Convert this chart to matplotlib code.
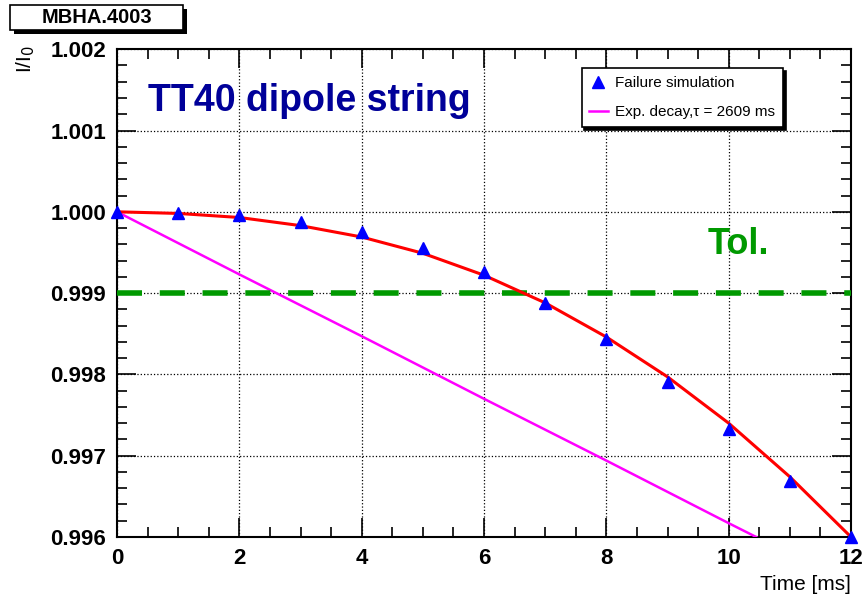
import matplotlib
matplotlib.use("Agg")
import matplotlib.pyplot as plt
from matplotlib.patches import Rectangle
from matplotlib.ticker import MultipleLocator

plt.rcParams["font.family"] = ["Liberation Sans", "DejaVu Sans"]

# failure simulation points
t_sim = [0, 1, 2, 3, 4, 5, 6, 7, 8, 9, 10, 11, 12]
i_sim = [1.0, 0.99999, 0.99996, 0.99988, 0.99975, 0.99955, 0.99926,
         0.99888, 0.99844, 0.99791, 0.99733, 0.99669, 0.99600]

# red fit curve
t_fit = [0, 1, 2, 3, 4, 5, 6, 7, 8, 9, 10, 11, 12]
i_fit = [1.0, 0.99998, 0.99993, 0.99983, 0.99969, 0.99949, 0.99922,
         0.99888, 0.99846, 0.99797, 0.99740, 0.99674, 0.99600]

# exponential decay line, tau = 2609 ms
t_exp = [0, 2, 4, 6, 8, 10, 10.45]
i_exp = [1.0, 0.99923, 0.99847, 0.99770, 0.99694, 0.99617, 0.99600]

tol_level = 0.999

fig = plt.figure(figsize=(8.66, 6.0), dpi=100)
ax = fig.add_axes([0.1351, 0.105, 0.8476, 0.813])

l_exp, = ax.plot(t_exp, i_exp, color="#ff00ff", lw=1.8, zorder=3)
ax.plot(t_fit, i_fit, color="#ff0000", lw=2.2, zorder=4)
l_sim, = ax.plot(t_sim, i_sim, ls="none", marker="^", ms=8.5, color="#0000ff",
                 zorder=5, clip_on=False)
ax.plot([0, 12], [tol_level, tol_level], color="#009900", lw=4,
        dashes=(4.5, 3.2), zorder=3)

ax.set_xlim(0, 12)
ax.set_ylim(0.996, 1.002)
ax.xaxis.set_major_locator(MultipleLocator(2))
ax.xaxis.set_minor_locator(MultipleLocator(0.5))
ax.yaxis.set_major_locator(MultipleLocator(0.001))
ax.yaxis.set_minor_locator(MultipleLocator(0.0002))
ax.yaxis.set_major_formatter(plt.FormatStrFormatter("%.3f"))
ax.grid(True, which="major", color="black", ls=":", lw=0.9)
ax.tick_params(which="both", direction="in", top=True, right=True, width=1.2)
ax.tick_params(which="major", length=14, labelsize=16, pad=8)
ax.tick_params(which="minor", length=7)
for lab in ax.get_xticklabels() + ax.get_yticklabels():
    lab.set_fontweight("bold")
for s in ax.spines.values():
    s.set_linewidth(1.5)

ax.text(0.5, 1.00124, "TT40 dipole string", color="#000099", fontsize=27,
        fontweight="bold", va="baseline")
ax.text(9.66, 0.99948, "Tol.", color="#009900", fontsize=26,
        fontweight="bold", va="baseline")

leg = ax.legend([l_sim, l_exp], ["Failure simulation", "Exp. decay,τ = 2609 ms"],
                loc="upper left", bbox_to_anchor=(0.633, 0.961), borderaxespad=0,
                fontsize=11, fancybox=False, edgecolor="black", framealpha=1,
                shadow={"color": "black", "alpha": 1}, labelspacing=1.0,
                handlelength=1.2, handletextpad=0.5, borderpad=0.5)
leg.get_frame().set_linewidth(1.2)

fig.text(0.983, 0.017, "Time [ms]", ha="right", va="baseline", fontsize=15)
fig.text(0.03, 0.925, "I/I$_0$", rotation=90, ha="center", va="top", fontsize=15)

# title box with shadow
fig.patches.append(Rectangle((14 / 866, 1 - 34 / 600), 173 / 866, 25 / 600,
                             transform=fig.transFigure, fc="black", ec="none"))
fig.patches.append(Rectangle((10 / 866, 1 - 30 / 600), 173 / 866, 25 / 600,
                             transform=fig.transFigure, fc="white", ec="black", lw=1.2))
fig.text(96.5 / 866, 1 - 17.5 / 600, "MBHA.4003", ha="center", va="center",
         fontsize=14.5, fontweight="bold")

fig.savefig("out.png", dpi=100)
